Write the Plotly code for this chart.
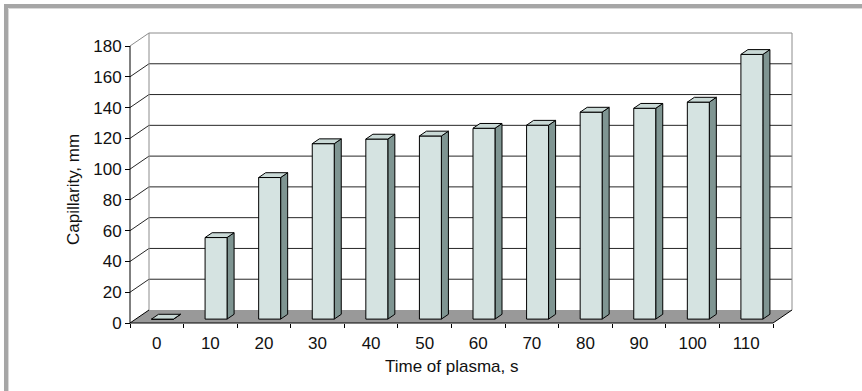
import plotly.graph_objects as go

# ---- data ----
categories = ["0", "10", "20", "30", "40", "50", "60", "70", "80", "90", "100", "110"]
capillarity = [0, 53, 92, 114, 117, 119, 124, 126, 134.5, 137, 141, 172]
y_ticks = [0, 20, 40, 60, 80, 100, 120, 140, 160, 180]
x_title = "Time of plasma, s"
y_title = "Capillarity, mm"

# ---- geometry (pseudo-3D projection in data units) ----
W, H = 862, 391
PXX = 53.58          # px per category
PXY = 1.5389         # px per value unit
DX = 19 / PXX        # depth offset in x units
DY = 13 / PXY        # depth offset in value units
YMAX = 180
BAR_W = 0.41
D0, D1 = 0.3, 0.67
n = len(categories)
x0, x1 = -0.5, n - 0.5

PAD = 3
plot_left, plot_right = 130 - PAD, 130 + (n + DX) * PXX + PAD
plot_top = 323 - (YMAX + DY) * PXY - PAD
plot_bottom = 323 + PAD
ml, mr = plot_left, W - plot_right
mt, mb = plot_top, H - plot_bottom
xr = [x0 - PAD / PXX, x1 + DX + PAD / PXX]
yr = [-PAD / PXY, YMAX + DY + PAD / PXY]

fig = go.Figure()

def poly(xs, ys, fill, line, width=1, mode="lines"):
    fig.add_trace(go.Scatter(x=xs, y=ys, mode=mode, fill="toself" if fill else None,
                             fillcolor=fill, line=dict(color=line, width=width),
                             hoverinfo="skip", showlegend=False))

# floor
poly([x0, x1, x1 + DX, x0 + DX, x0], [0, 0, DY, DY, 0], "#999999", "rgba(0,0,0,0)", 0)

# gridlines: back wall + left side wall
gx, gy = [], []
for v in y_ticks[1:-1]:
    gx += [x0, x0 + DX, x1 + DX, None]
    gy += [v, v + DY, v + DY, None]
poly(gx, gy, None, "#262626", 1)

# wall outline (gray)
poly([x0 + DX, x0 + DX, None, x0, x0 + DX, x1 + DX, x1 + DX],
     [DY, YMAX + DY, None, YMAX, YMAX + DY, YMAX + DY, DY], None, "#8c8c8c", 1)

# front axes + floor edges (black)
poly([x0, x0, None, x0, x1, x1 + DX, None, x0, x0 + DX],
     [YMAX, 0, None, 0, 0, DY, None, 0, DY], None, "#000000", 1)

# bars
fx, fy, sx, sy, tx, ty = [], [], [], [], [], []
for i, v in enumerate(capillarity):
    xl0 = i - BAR_W / 2 + D0 * DX
    xr0 = i + BAR_W / 2 + D0 * DX
    xl1 = i - BAR_W / 2 + D1 * DX
    xr1 = i + BAR_W / 2 + D1 * DX
    b0, b1 = D0 * DY, D1 * DY
    fx += [xl0, xr0, xr0, xl0, xl0, None]
    fy += [b0, b0, v + b0, v + b0, b0, None]
    sx += [xr0, xr1, xr1, xr0, xr0, None]
    sy += [b0, b1, v + b1, v + b0, b0, None]
    tx += [xl0, xr0, xr1, xl1, xl0, None]
    ty += [v + b0, v + b0, v + b1, v + b1, v + b0, None]
poly(sx, sy, "#7f9592", "#000000", 1)
poly(fx, fy, "#d5e3e1", "#000000", 1)
poly(tx, ty, "#c9d9d6", "#000000", 1)

font = dict(family="Arial, Liberation Sans, sans-serif", size=17, color="#111111")
pw = plot_right - plot_left
ph = plot_bottom - plot_top

fig.update_layout(
    width=W, height=H,
    margin=dict(l=ml, r=mr, t=mt, b=mb, pad=0),
    paper_bgcolor="white", plot_bgcolor="white",
    font=font,
    xaxis=dict(range=xr, showgrid=False, zeroline=False, showline=False,
               tickmode="array", tickvals=list(range(n)), ticktext=categories,
               ticks="", tickfont=font,
               minor=dict(tickmode="array", tickvals=[k - 0.5 for k in range(n + 1)],
                          ticks="outside", ticklen=4, tickcolor="#000000", tickwidth=1, showgrid=False),
               anchor="free", position=PAD / ph, ticklabelstandoff=8),
    yaxis=dict(range=yr, showgrid=False, zeroline=False, showline=False,
               tickmode="array", tickvals=y_ticks, ticks="outside", ticklen=5,
               tickcolor="#000000", tickwidth=1, tickfont=font,
               anchor="free", position=PAD / pw),
    annotations=[
        dict(text=x_title, xref="paper", yref="paper",
             x=(451.5 - plot_left) / pw, y=(plot_bottom - 367) / ph,
             xanchor="center", yanchor="middle", showarrow=False, font=font),
        dict(text=y_title, xref="paper", yref="paper",
             x=(73 - plot_left) / pw, y=(plot_bottom - 189) / ph, textangle=-90,
             xanchor="center", yanchor="middle", showarrow=False, font=font),
    ],
    shapes=[
        dict(type="rect", xref="paper", yref="paper",
             x0=(6 - plot_left) / pw, x1=3, y0=-3, y1=(plot_bottom - 6) / ph,
             line=dict(color="#a6a6a6", width=4), fillcolor="rgba(0,0,0,0)", layer="below"),
        dict(type="rect", xref="paper", yref="paper",
             x0=(8.5 - plot_left) / pw, x1=3, y0=-3, y1=(plot_bottom - 8.5) / ph,
             line=dict(color="#d9d9d9", width=1), fillcolor="rgba(0,0,0,0)", layer="below"),
    ],
)

fig.write_html("out.html")
